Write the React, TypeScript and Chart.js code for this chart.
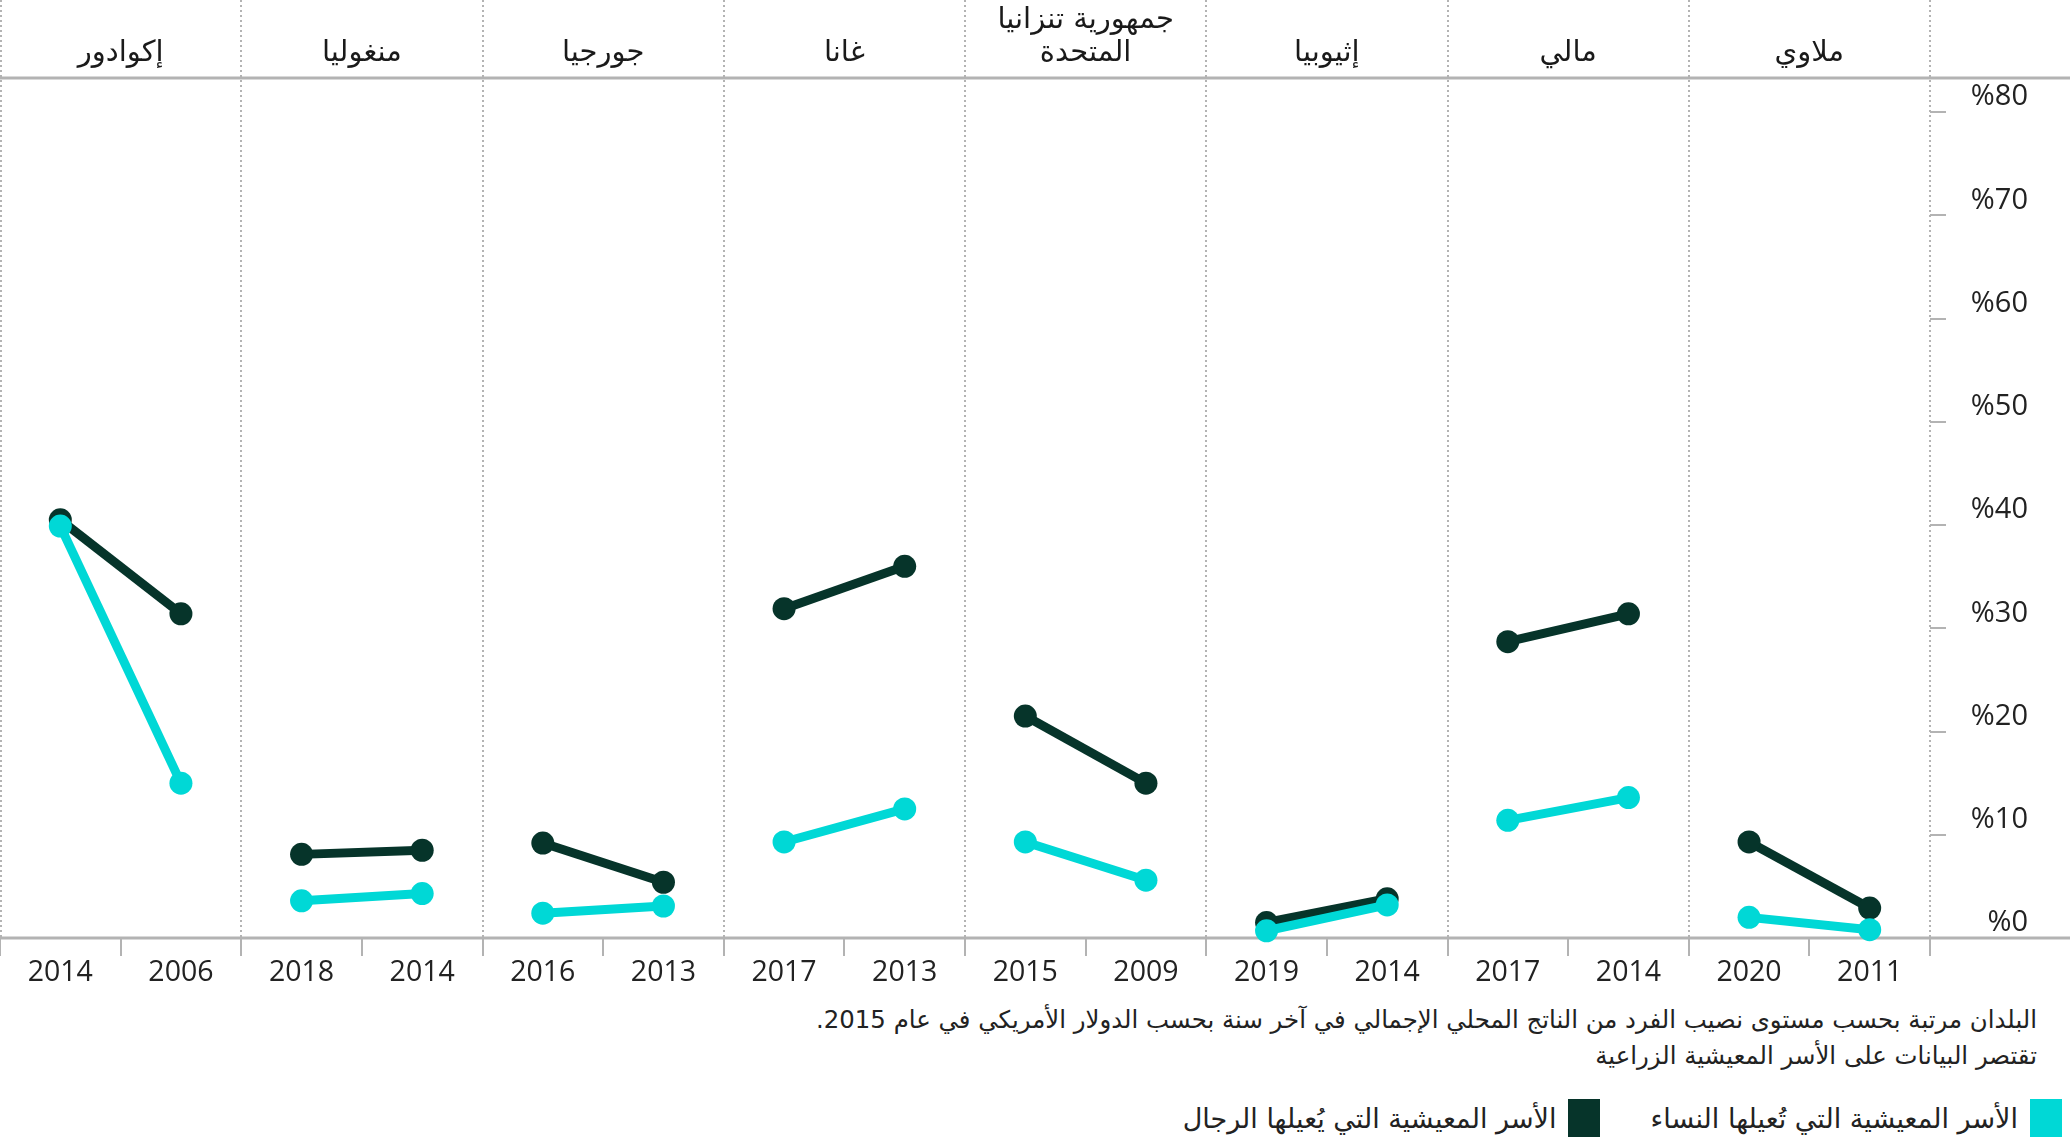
import React, { useEffect, useRef } from 'react';
import { Chart, registerables } from 'chart.js';

Chart.register(...registerables);

const countries = [
  'إكوادور',
  'منغوليا',
  'جورجيا',
  'غانا',
  'جمهورية تنزانيا\nالمتحدة',
  'إثيوبيا',
  'مالي',
  'ملاوي',
];
const years = ['2014', '2006', '2018', '2014', '2016', '2013', '2017', '2013', '2015', '2009', '2019', '2014', '2017', '2014', '2020', '2011'];
const maleHeaded = [40.5, 31.4, 8.1, 8.5, 9.2, 5.4, 31.9, 36.0, 21.5, 15.0, 1.5, 3.8, 28.7, 31.4, 9.3, 2.9];
const femaleHeaded = [39.9, 15.0, 3.6, 4.3, 2.4, 3.1, 9.3, 12.5, 9.3, 5.6, 0.7, 3.2, 11.4, 13.6, 2.0, 0.8];
const yTickValues = [0, 10, 20, 30, 40, 50, 60, 70, 80];
const footnotes = [
  'البلدان مرتبة بحسب مستوى نصيب الفرد من الناتج المحلي الإجمالي في آخر سنة بحسب الدولار الأمريكي في عام 2015.',
  'تقتصر البيانات على الأسر المعيشية الزراعية',
];
const seriesNames = ['الأسر المعيشية التي تُعيلها النساء', 'الأسر المعيشية التي يُعيلها الرجال'];

const FEMALE = '#00d8d6';
const MALE = '#06342a';
const GRID = '#b3b3b3';
const ARABIC_FONT = '"DejaVu Sans", sans-serif';
const NUM_FONT = '"Open Sans", "Noto Sans", sans-serif';

const framePlugin = {
  id: 'frame',
  beforeDatasetsDraw(chart: any) {
    const { ctx, chartArea } = chart;
    const n = countries.length;
    const w = (chartArea.right - chartArea.left) / n;
    ctx.save();
    ctx.strokeStyle = GRID;
    ctx.lineWidth = 2;
    ctx.setLineDash([2, 3]);
    for (let i = 0; i <= n; i++) {
      const px = Math.max(1, Math.round(chartArea.left + i * w));
      ctx.beginPath();
      ctx.moveTo(px, 0);
      ctx.lineTo(px, chartArea.bottom);
      ctx.stroke();
    }
    ctx.setLineDash([]);
    ctx.lineWidth = 3;
    [chartArea.top, chartArea.bottom].forEach((py: number) => {
      ctx.beginPath();
      ctx.moveTo(0, py);
      ctx.lineTo(chart.width, py);
      ctx.stroke();
    });
    ctx.fillStyle = '#1a1a1a';
    ctx.font = '29px ' + ARABIC_FONT;
    ctx.textAlign = 'center';
    ctx.textBaseline = 'middle';
    ctx.direction = 'rtl';
    countries.forEach((name, i) => {
      const cx = chartArea.left + (i + 0.5) * w;
      const lines = name.split('\n');
      const lastY = 53;
      lines.forEach((ln, j) => {
        const ly = lastY - (lines.length - 1 - j) * 33;
        ctx.fillText(ln, cx, ly);
      });
    });
    ctx.restore();
  },
};

export default function App() {
  const canvasRef = useRef<HTMLCanvasElement | null>(null);

  useEffect(() => {
    document.body.style.margin = '0';
    const canvas = canvasRef.current;
    if (!canvas) return;
    const segColor = (color: string) => (ctx: any) => (ctx.p0DataIndex % 2 === 1 ? 'rgba(0,0,0,0)' : color);
    const chart = new Chart(canvas, {
      type: 'line',
      data: {
        labels: years,
        datasets: [
          {
            label: seriesNames[0],
            data: femaleHeaded,
            borderColor: FEMALE,
            backgroundColor: FEMALE,
            pointBackgroundColor: FEMALE,
            pointBorderWidth: 0,
            pointRadius: 11.5,
            borderWidth: 9,
            clip: false,
            segment: { borderColor: segColor(FEMALE) },
          },
          {
            label: seriesNames[1],
            data: maleHeaded,
            borderColor: MALE,
            backgroundColor: MALE,
            pointBackgroundColor: MALE,
            pointBorderWidth: 0,
            pointRadius: 11.5,
            borderWidth: 9,
            clip: false,
            segment: { borderColor: segColor(MALE) },
          },
        ],
      },
      options: {
        responsive: false,
        animation: false,
        events: [],
        layout: { autoPadding: false, padding: { top: 78, left: 0, right: 42, bottom: 0 } },
        plugins: { legend: { display: false }, tooltip: { enabled: false } },
        scales: {
          x: {
            type: 'category',
            offset: true,
            border: { display: false },
            grid: { offset: true, drawOnChartArea: false, drawTicks: true, tickLength: 18, color: GRID, lineWidth: 2 },
            ticks: {
              autoSkip: false,
              maxRotation: 0,
              padding: 0,
              color: '#222',
              font: { family: NUM_FONT, size: 28.5 },
            },
            afterFit: (s: any) => {
              s.height = 62;
              s.paddingLeft = 0;
              s.paddingRight = 0;
            },
          },
          y: {
            position: 'right',
            min: 0,
            max: 83.3,
            border: { display: false },
            grid: { drawOnChartArea: false, drawTicks: true, tickLength: 16, color: GRID, lineWidth: 2 },
            afterBuildTicks: (s: any) => {
              s.ticks = yTickValues.map((v) => ({ value: v }));
            },
            ticks: {
              crossAlign: 'far',
              padding: 6,
              labelOffset: -15,
              color: '#222',
              font: { family: NUM_FONT, size: 29 },
              callback: (v: any) => '%' + v,
            },
            afterFit: (s: any) => {
              s.width = 98;
            },
          },
        },
      },
      plugins: [framePlugin],
    });
    return () => chart.destroy();
  }, []);

  return (
    <div style={{ position: 'relative', width: 2070, height: 1141, background: '#fff', overflow: 'hidden' }}>
      <canvas ref={canvasRef} width={2070} height={1000} style={{ position: 'absolute', left: 0, top: 0 }} />
      <div
        dir="rtl"
        style={{
          position: 'absolute',
          right: 33,
          top: 1002,
          fontFamily: ARABIC_FONT,
          fontSize: 24.4,
          lineHeight: '36px',
          color: '#222',
          textAlign: 'right',
          whiteSpace: 'nowrap',
        }}
      >
        {footnotes.map((t, i) => (
          <div key={i}>{t}</div>
        ))}
      </div>
      <div
        dir="rtl"
        style={{
          position: 'absolute',
          right: 8,
          top: 1099,
          display: 'flex',
          alignItems: 'center',
          fontFamily: ARABIC_FONT,
          fontSize: 27,
          color: '#222',
          whiteSpace: 'nowrap',
        }}
      >
        {seriesNames.map((name, i) => (
          <div key={i} style={{ display: 'flex', alignItems: 'center', marginLeft: i === 0 ? 50 : 0 }}>
            <span style={{ display: 'inline-block', width: 32, height: 38, background: i === 0 ? FEMALE : MALE, marginLeft: 12 }} />
            <span>{name}</span>
          </div>
        ))}
      </div>
    </div>
  );
}
